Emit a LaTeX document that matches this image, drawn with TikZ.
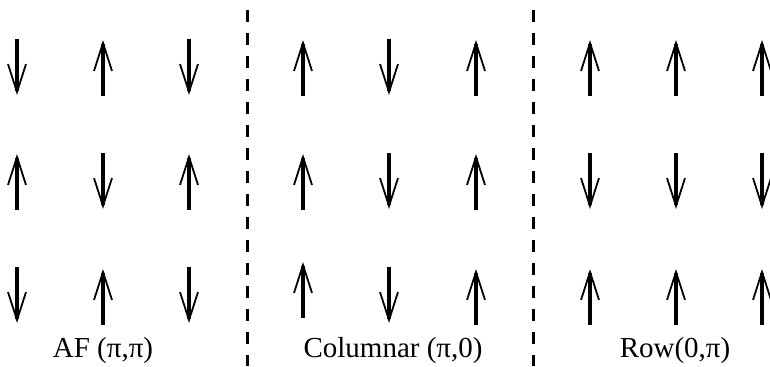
\documentclass[tikz,border=0pt]{standalone}
\usepackage{fontspec}
\setmainfont{Liberation Serif}
\usetikzlibrary{arrows.meta}

\tikzset{
  spin/.style={line width=1.8pt,-{Straight Barb[length=14pt,width=9pt,line width=0.9pt]}},
  trenner/.style={line width=1.5pt,dash pattern=on 6pt off 5.5pt},
  beschriftung/.style={font=\fontsize{14.5pt}{16pt}\selectfont,inner sep=0pt,anchor=base}
}

\begin{document}
\begin{tikzpicture}[x=0.5pt,y=-0.5pt]
	% Rahmen festlegen
	\useasboundingbox (0,0) rectangle (770,366);

	% Trennlinien zeichnen
	\coordinate (t1o) at (247,10);
	\coordinate (t1u) at (247,366);
	\coordinate (t2o) at (533,10);
	\coordinate (t2u) at (533,366);
	\draw[trenner] (t1o) -- (t1u);
	\draw[trenner] (t2o) -- (t2u);

	% Spins zeichnen: x, y-Mitte, Richtung (+1 oben, -1 unten)
	\foreach \x/\y/\s in {
		17/67/-1, 103/68/1, 189/67/-1,
		17/182/1, 103/181/-1, 189/182/1,
		17/295/-1, 103/297/1, 189/295/-1,
		303/68/1, 389/67/-1, 476/68/1,
		303/182/1, 389/181/-1, 476/182/1,
		303/290/1, 389/295/-1, 476/297/1,
		590/68/1, 676/68/1, 762/68/1,
		590/181/-1, 676/181/-1, 762/181/-1,
		590/297/1, 676/297/1, 762/297/1}
	{
		\coordinate (a) at (\x,\y+\s*28);
		\coordinate (b) at (\x,\y-\s*28);
		\draw[spin] (a) -- (b);
	}

	% Beschriftungen eintragen
	\node[beschriftung] (af) at (103,357) {AF (π,π)};
	\node[beschriftung] (col) at (393,357) {Columnar (π,0)};
	\node[beschriftung] (row) at (675,357) {Row(0,π)};
\end{tikzpicture}
\end{document}
